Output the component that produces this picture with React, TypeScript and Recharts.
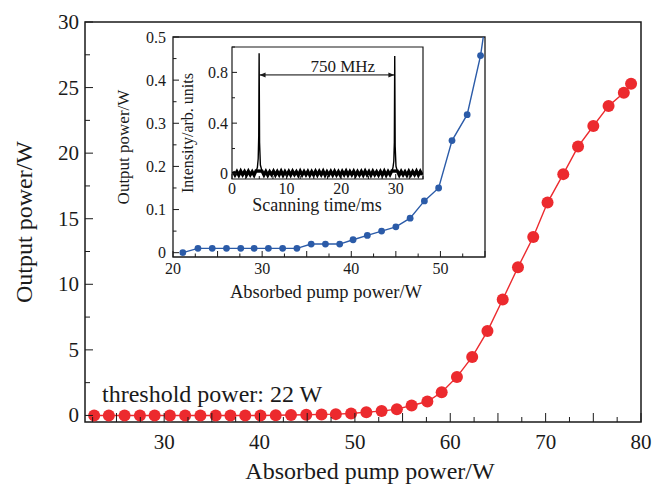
import { LineChart, Line, XAxis, YAxis, ReferenceArea } from 'recharts';

// main curve: output power vs absorbed pump power
const pumpPower = [22.66, 24.2, 25.85, 27.46, 29.0, 30.6, 32.2, 33.8, 35.4, 36.95, 38.5, 40.1, 41.7, 43.3, 44.9, 46.5, 48.0, 49.6, 51.2, 52.8, 54.4, 55.95, 57.6, 59.1, 60.7, 62.3, 63.9, 65.5, 67.1, 68.7, 70.2, 71.85, 73.4, 75.0, 76.6, 78.2, 78.96];
const outputPower = [0, 0, 0, 0, 0, 0, 0, 0, 0, 0, 0, 0, 0.02, 0.03, 0.05, 0.08, 0.1, 0.15, 0.25, 0.33, 0.48, 0.76, 1.06, 1.77, 2.94, 4.46, 6.43, 8.84, 11.3, 13.6, 16.23, 18.4, 20.5, 22.07, 23.6, 24.6, 25.3];

// inset: low power region
const lowPump = [21.1, 22.8, 24.4, 26.0, 27.6, 29.1, 30.7, 32.3, 33.9, 35.5, 37.1, 38.7, 40.2, 41.8, 43.4, 45.0, 46.6, 48.2, 49.8, 51.3, 53.0, 54.5, 56.1];
const lowOutput = [0, 0.01, 0.01, 0.01, 0.01, 0.01, 0.01, 0.01, 0.01, 0.02, 0.02, 0.02, 0.03, 0.04, 0.05, 0.06, 0.08, 0.12, 0.15, 0.26, 0.32, 0.457, 0.68];

// nested inset: scanning F-P trace (noise floor + two transmission peaks)
const floorTime = [
  0.2, 0.55, 0.9, 1.25, 1.6, 1.95, 2.3, 2.65, 3.0, 3.35, 3.7, 4.05, 4.4,
  5.5, 5.85, 6.2, 6.55, 6.9, 7.25, 7.6, 7.95, 8.3, 8.65, 9.0, 9.35, 9.7, 10.05,
  10.4, 10.75, 11.1, 11.45, 11.8, 12.15, 12.5, 12.85, 13.2, 13.55, 13.9, 14.25,
  14.6, 14.95, 15.3, 15.65, 16.0, 16.35, 16.7, 17.05, 17.4, 17.75, 18.1, 18.45,
  18.8, 19.15, 19.5, 19.85, 20.2, 20.55, 20.9, 21.25, 21.6, 21.95, 22.3, 22.65,
  23.0, 23.35, 23.7, 24.05, 24.4, 24.75, 25.1, 25.45, 25.8, 26.15, 26.5, 26.85,
  27.2, 27.55, 27.9, 28.25, 28.6, 28.95, 29.3,
  30.3, 30.65, 31.0, 31.35, 31.7, 32.05, 32.4, 32.75, 33.1, 33.45, 33.8, 34.15, 34.5, 34.85,
];
const floorLevel = [
  0.02, -0.008, 0.018, -0.01, 0.022, -0.006, 0.019, -0.009, 0.021, -0.007, 0.018, -0.01, 0.024,
  0.022, -0.008, 0.02, -0.01, 0.018, -0.006, 0.021, -0.009, 0.019, -0.007, 0.022, -0.01, 0.018, -0.008,
  0.02, -0.009, 0.021, -0.006, 0.018, -0.01, 0.022, -0.008, 0.019, -0.007, 0.02, -0.01,
  0.018, -0.008, 0.021, -0.009, 0.02, -0.006, 0.022, -0.01, 0.018, -0.007, 0.02, -0.009,
  0.021, -0.008, 0.018, -0.01, 0.02, -0.006, 0.022, -0.009, 0.019, -0.007, 0.021, -0.01,
  0.018, -0.008, 0.02, -0.009, 0.022, -0.006, 0.019, -0.01, 0.021, -0.007, 0.018, -0.009,
  0.02, -0.008, 0.022, -0.01, 0.019, -0.006, 0.024,
  0.022, -0.009, 0.02, -0.007, 0.018, -0.01, 0.021, -0.008, 0.019, -0.006, 0.022, -0.009, 0.02, -0.008,
];
const peakOneTime = [4.4, 4.65, 4.8, 4.9, 4.97, 5.05, 5.2, 5.5];
const peakOneLevel = [0.02, 0.05, 0.12, 0.3, 0.95, 0.25, 0.07, 0.022];
const peakTwoTime = [29.3, 29.5, 29.65, 29.75, 29.82, 29.9, 30.05, 30.3];
const peakTwoLevel = [0.024, 0.05, 0.1, 0.25, 0.93, 0.22, 0.06, 0.022];
const fsrEnds = [5.05, 29.75];
const fsrLevel = 0.78;
const fsrLabel = '750 MHz';

// ticks (marks) and the subset that carries a label
const mainXTicks = [22.5, 25, 27.5, 30, 32.5, 35, 37.5, 40, 42.5, 45, 47.5, 50, 52.5, 55, 57.5, 60, 62.5, 65, 67.5, 70, 72.5, 75, 77.5, 80];
const mainXLabels = [30, 40, 50, 60, 70, 80];
const mainYTicks = [0, 2.5, 5, 7.5, 10, 12.5, 15, 17.5, 20, 22.5, 25, 27.5, 30];
const mainYLabels = [0, 5, 10, 15, 20, 25, 30];
const insetXTicks = [20, 22.5, 25, 27.5, 30, 32.5, 35, 37.5, 40, 42.5, 45, 47.5, 50, 52.5, 55];
const insetXLabels = [20, 30, 40, 50];
const insetYTicks = [0, 0.05, 0.1, 0.15, 0.2, 0.25, 0.3, 0.35, 0.4, 0.45, 0.5];
const insetYLabels = [0, 0.1, 0.2, 0.3, 0.4, 0.5];
const scanXTicks = [0, 2.5, 5, 7.5, 10, 12.5, 15, 17.5, 20, 22.5, 25, 27.5, 30, 32.5, 35];
const scanXLabels = [0, 10, 20, 30];
const scanYTicks = [0, 0.2, 0.4, 0.6, 0.8, 1.0];
const scanYLabels = [0, 0.4, 0.8];

const toPoints = (xs: number[], ys: number[]) => xs.map((x, i) => ({ x, y: ys[i] }));
const mainData = toPoints(pumpPower, outputPower);
const insetData = toPoints(lowPump, lowOutput);
const floorData = toPoints(floorTime, floorLevel);
const peakOneData = toPoints(peakOneTime, peakOneLevel);
const peakTwoData = toPoints(peakTwoTime, peakTwoLevel);
const fsrData = fsrEnds.map((x) => ({ x, y: fsrLevel }));

const FONT = '"Liberation Serif", serif';
const INK = '#1a1a1a';

const isIn = (list: number[], v: number) => list.some((l) => Math.abs(l - v) < 1e-6);
const isMult = (v: number, step: number) => Math.abs(v / step - Math.round(v / step)) < 1e-6;

// inward tick mark (path) plus an optional label
function makeTick(
  side: 'bottom' | 'left' | 'top' | 'right',
  labels: number[],
  majorStep: number,
  majorLen: number,
  minorLen: number,
  fontSize = 16,
  gap = 0,
) {
  return (props: any) => {
    const { x, y, payload } = props;
    const v = payload.value as number;
    const len = isMult(v, majorStep) ? majorLen : minorLen;
    let d = '';
    if (side === 'bottom') d = `M${x},${y}V${y - len}`;
    if (side === 'top') d = `M${x},${y}V${y + len}`;
    if (side === 'left') d = `M${x},${y}H${x + len}`;
    if (side === 'right') d = `M${x},${y}H${x - len}`;
    const show = isIn(labels, v);
    return (
      <g>
        <path d={d} stroke={INK} strokeWidth={1} fill="none" />
        {show && side === 'bottom' && (
          <text x={x} y={y + gap} textAnchor="middle" dominantBaseline="central" fontFamily={FONT} fontSize={fontSize} fill={INK}>
            {String(v)}
          </text>
        )}
        {show && side === 'left' && (
          <text x={x - gap} y={y} textAnchor="end" dominantBaseline="central" fontFamily={FONT} fontSize={fontSize} fill={INK}>
            {String(v)}
          </text>
        )}
      </g>
    );
  };
}

const ArrowHead = (props: any) => {
  const { cx, cy, index } = props;
  const d = index === 0 ? 1 : -1;
  return (
    <path
      key={`ah-${index}`}
      d={`M${cx},${cy} L${cx + d * 6},${cy - 2.5} L${cx + d * 6},${cy + 2.5} Z`}
      fill={INK}
    />
  );
};

export default function App() {
  return (
    <div style={{ position: 'absolute', left: 0, top: 0, width: 654, height: 484, background: '#fff' }}>
      {/* main chart */}
      <div style={{ position: 'absolute', left: 0, top: 0 }}>
        <LineChart width={654} height={484} data={mainData} margin={{ top: 22, right: 13, bottom: 0, left: 0 }}>
          <XAxis xAxisId="b" dataKey="x" type="number" domain={[21.7, 80]} allowDataOverflow ticks={mainXTicks} interval={0}
            height={62} tickSize={0} tickMargin={0} axisLine={false} tick={makeTick('bottom', mainXLabels, 5, 9, 5, 21, 20)} />
          <YAxis yAxisId="l" type="number" domain={[-0.5, 30]} allowDataOverflow ticks={mainYTicks} interval={0}
            width={85} tickSize={0} tickMargin={0} axisLine={false} tick={makeTick('left', mainYLabels, 5, 8, 5, 21, 6)} />
          <ReferenceArea xAxisId="b" yAxisId="l" x1={21.7} x2={80} y1={-0.5} y2={30} fill="none" stroke={INK} strokeWidth={1.5} />
          <Line xAxisId="b" yAxisId="l" dataKey="y" stroke="#ec2a2e" strokeWidth={1.4} isAnimationActive={false}
            dot={{ r: 6, fill: '#ec2a2e', stroke: 'none' }} />
        </LineChart>
      </div>

      {/* inset: low power region */}
      <div style={{ position: 'absolute', left: 100, top: 25 }}>
        <LineChart width={400} height={285} data={insetData} margin={{ top: 12, right: 15, bottom: 0, left: 0 }}>
          <XAxis xAxisId="b" dataKey="x" type="number" domain={[20, 55]} allowDataOverflow ticks={insetXTicks} interval={0}
            height={53} tickSize={0} tickMargin={0} axisLine={false} tick={makeTick('bottom', insetXLabels, 5, 6, 3.5, 16, 11)} />
          <XAxis xAxisId="t" orientation="top" dataKey="x" type="number" domain={[20, 55]} allowDataOverflow ticks={insetXTicks} interval={0}
            height={0} tickSize={0} tickMargin={0} axisLine={false} tick={makeTick('top', [], 5, 6, 3.5)} />
          <YAxis yAxisId="l" type="number" domain={[-0.01, 0.5]} allowDataOverflow ticks={insetYTicks} interval={0}
            width={73} tickSize={0} tickMargin={0} axisLine={false} tick={makeTick('left', insetYLabels, 0.1, 6, 3.5, 16, 7)} />
          <YAxis yAxisId="r" orientation="right" type="number" domain={[-0.01, 0.5]} allowDataOverflow ticks={insetYTicks} interval={0}
            width={0} tickSize={0} tickMargin={0} axisLine={false} tick={makeTick('right', [], 0.1, 6, 3.5)} />
          <ReferenceArea xAxisId="b" yAxisId="l" x1={20} x2={55} y1={-0.01} y2={0.5} fill="none" stroke={INK} strokeWidth={1.3} />
          <Line xAxisId="b" yAxisId="l" dataKey="y" stroke="#2b5ba8" strokeWidth={1.4} isAnimationActive={false}
            dot={{ r: 3.4, fill: '#2b5ba8', stroke: 'none' }} />
        </LineChart>
      </div>

      {/* nested inset: scanning trace */}
      <div style={{ position: 'absolute', left: 180, top: 40 }}>
        <LineChart width={250} height={175} margin={{ top: 7, right: 7, bottom: 0, left: 0 }}>
          <XAxis xAxisId="b" dataKey="x" type="number" domain={[0, 35]} allowDataOverflow ticks={scanXTicks} interval={0}
            height={36} tickSize={0} tickMargin={0} axisLine={false} tick={makeTick('bottom', scanXLabels, 10, 5, 3, 16, 9)} />
          <XAxis xAxisId="t" orientation="top" dataKey="x" type="number" domain={[0, 35]} allowDataOverflow ticks={scanXTicks} interval={0}
            height={0} tickSize={0} tickMargin={0} axisLine={false} tick={makeTick('top', [], 10, 5, 3)} />
          <YAxis yAxisId="l" type="number" domain={[-0.04, 1.0]} allowDataOverflow ticks={scanYTicks} interval={0}
            width={52} tickSize={0} tickMargin={0} axisLine={false} tick={makeTick('left', scanYLabels, 0.4, 5, 3, 16, 4)} />
          <YAxis yAxisId="r" orientation="right" type="number" domain={[-0.04, 1.0]} allowDataOverflow ticks={scanYTicks} interval={0}
            width={0} tickSize={0} tickMargin={0} axisLine={false} tick={makeTick('right', [], 0.4, 5, 3)} />
          <ReferenceArea xAxisId="b" yAxisId="l" x1={0} x2={35} y1={-0.04} y2={1.0} fill="none" stroke={INK} strokeWidth={1.2} />
          <Line xAxisId="b" yAxisId="l" data={floorData} dataKey="y" stroke="#000" strokeWidth={3.2} dot={false}
            isAnimationActive={false} />
          <Line xAxisId="b" yAxisId="l" data={peakOneData} dataKey="y" stroke="#000" strokeWidth={1.4} dot={false}
            isAnimationActive={false} />
          <Line xAxisId="b" yAxisId="l" data={peakTwoData} dataKey="y" stroke="#000" strokeWidth={1.4} dot={false}
            isAnimationActive={false} />
          <Line xAxisId="b" yAxisId="l" data={fsrData} dataKey="y" stroke="#000" strokeWidth={1} dot={ArrowHead}
            isAnimationActive={false} />
          <ReferenceArea xAxisId="b" yAxisId="l" x1={10} x2={30.6} y1={0.79} y2={0.91} fill="none" stroke="none"
            label={{ value: fsrLabel, position: 'center', fontFamily: FONT, fontSize: 17, fill: INK }} />
        </LineChart>
      </div>

      {/* axis titles and annotation */}
      <svg width={654} height={484} style={{ position: 'absolute', left: 0, top: 0, pointerEvents: 'none' }}>
        <g fontFamily={FONT} fill={INK}>
          <text x={24} y={222} fontSize={24} textAnchor="middle" dominantBaseline="central" transform="rotate(-90 24 222)">
            Output power/W
          </text>
          <text x={370} y={471} fontSize={24} textAnchor="middle" dominantBaseline="central">
            Absorbed pump power/W
          </text>
          <text x={102} y={402} fontSize={24}>threshold power: 22 W</text>
          <text x={123} y={147} fontSize={17} textAnchor="middle" dominantBaseline="central" transform="rotate(-90 123 147)">
            Output power/W
          </text>
          <text x={326} y={292} fontSize={18.5} textAnchor="middle" dominantBaseline="central">
            Absorbed pump power/W
          </text>
          <text x={187} y={133} fontSize={16} textAnchor="middle" dominantBaseline="central" transform="rotate(-90 187 133)">
            Intensity/arb. units
          </text>
          <text x={317} y={205} fontSize={18} textAnchor="middle" dominantBaseline="central">
            Scanning time/ms
          </text>
        </g>
      </svg>
    </div>
  );
}
